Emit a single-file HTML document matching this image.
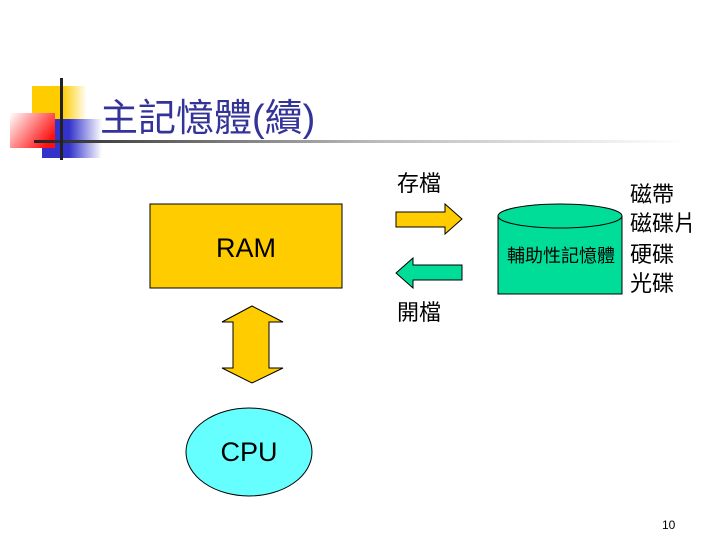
<!DOCTYPE html>
<html><head><meta charset="utf-8"><style>
html,body{margin:0;padding:0;background:#fff;width:720px;height:540px;overflow:hidden}
svg{display:block}
text{font-family:"Liberation Sans","Noto Sans CJK TC",sans-serif}
</style></head><body>
<svg width="720" height="540" viewBox="0 0 720 540" xmlns="http://www.w3.org/2000/svg">
<defs>
<linearGradient id="gy" x1="0" x2="1"><stop offset="0" stop-color="#ffcc00"/><stop offset="0.55" stop-color="#ffcc00"/><stop offset="1" stop-color="#fff"/></linearGradient>
<linearGradient id="gb" x1="0" x2="1"><stop offset="0" stop-color="#3333cc"/><stop offset="0.45" stop-color="#3333cc"/><stop offset="1" stop-color="#fff"/></linearGradient>
<linearGradient id="gr" x1="0" x2="1" y1="0" y2="0.6"><stop offset="0" stop-color="#fff"/><stop offset="1" stop-color="#ff1010"/></linearGradient>
<linearGradient id="gl" x1="0" x2="1"><stop offset="0" stop-color="#222"/><stop offset="0.15" stop-color="#555"/><stop offset="0.5" stop-color="#bbb"/><stop offset="0.95" stop-color="#fff"/></linearGradient>
</defs>
<rect x="32" y="86" width="55" height="34" fill="url(#gy)"/>
<rect x="42" y="119" width="60" height="39" fill="url(#gb)"/>
<rect x="10" y="113" width="45" height="35" fill="url(#gr)"/>
<rect x="34" y="140" width="686" height="3" fill="url(#gl)"/>
<rect x="60" y="78" width="3" height="82" fill="#222"/>
<text x="100" y="131" font-size="38" fill="#333399">主記憶體(續)</text>

<rect x="150" y="204" width="192" height="84" fill="#ffcc00" stroke="#000" stroke-width="1"/>
<text x="246" y="257" font-size="27" text-anchor="middle" fill="#000">RAM</text>

<polygon points="252,306 283,322 269,322 269,368 283,368 252,383 222,368 233,368 233,322 222,322" fill="#ffcc00" stroke="#000" stroke-width="1"/>

<ellipse cx="249" cy="452" rx="63" ry="44" fill="#66ffff" stroke="#000" stroke-width="1"/>
<text x="249" y="461" font-size="27" text-anchor="middle" fill="#000">CPU</text>

<text x="397" y="191" font-size="22" fill="#000">存檔</text>
<polygon points="396,212 445,212 445,204 462,219 445,234 445,227 396,227" fill="#ffcc00" stroke="#000" stroke-width="1"/>
<polygon points="396,273 413,258 413,265 462,265 462,280 413,280 413,288" fill="#00dd99" stroke="#000" stroke-width="1"/>
<text x="397" y="320" font-size="22" fill="#000">開檔</text>

<path d="M498,216 L498,294 L622,294 L622,216" fill="#00dd99" stroke="#000" stroke-width="1"/>
<ellipse cx="560" cy="216" rx="62" ry="12" fill="#00dd99" stroke="#000" stroke-width="1"/>
<text x="561" y="262" font-size="18" text-anchor="middle" fill="#000">輔助性記憶體</text>

<g font-size="22" fill="#000">
<text x="630" y="202">磁帶</text>
<text x="630" y="231">磁碟片</text>
<text x="630" y="262">硬碟</text>
<text x="630" y="291">光碟</text>
</g>
<text x="662" y="529" font-size="12" fill="#000">10</text>
</svg>
</body></html>
